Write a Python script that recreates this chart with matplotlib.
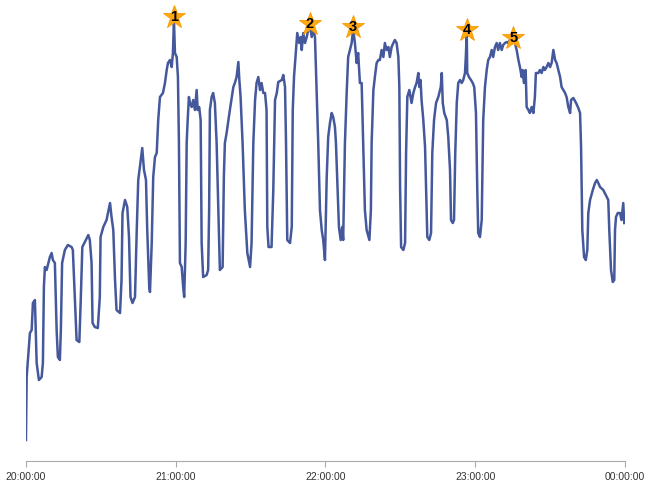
import matplotlib
matplotlib.use('Agg')
import matplotlib.pyplot as plt

# minutes after 20:00 and the measured value at that moment
minutes = [
    0, 0.3, 1.3, 1.6, 2.3, 2.8, 3.6, 4.3, 5.2, 6.3, 6.8, 7.2, 7.6, 8.3, 9.6, 10.3, 10.8, 11.6,
    12.3, 12.8, 13.6, 14.0, 14.5, 15.6, 16.8, 18.3, 18.8, 19.6, 20.3, 21.4, 22.0, 22.6, 23.6,
    25.0, 25.6, 26.3, 26.7, 27.6, 28.8, 29.6, 29.9, 31.0, 32.3, 33.7, 34.3, 35.0, 35.7, 36.3,
    37.7, 38.3, 38.7, 39.7, 40.6, 41.3, 41.9, 42.7, 43.7, 44.4, 45.0, 46.0, 46.6, 47.3, 48.1,
    48.6, 49.4, 49.7, 50.4, 51.0, 51.7, 52.4, 53.0, 53.7, 54.9, 55.7, 56.4, 56.9, 57.7, 58.4,
    58.9, 59.3, 59.7, 60.4, 60.9, 61.3, 61.7, 62.4, 63.0, 63.4, 64.0, 64.4, 64.8, 65.3, 65.7,
    66.4, 67.0, 67.7, 68.4, 68.8, 69.4, 70.0, 70.4, 71.0, 72.4, 73.0, 73.4, 73.7, 74.4, 75.0,
    75.7, 76.4, 77.1, 77.7, 78.8, 79.3, 79.7, 80.4, 81.7, 83.1, 83.7, 84.4, 85.1, 85.5, 86.0,
    86.8, 87.7, 88.7, 89.8, 90.4, 91.1, 91.8, 92.4, 93.1, 93.8, 94.4, 95.1, 95.8, 96.4, 96.7,
    97.2, 98.4, 99.1, 99.8, 100.5, 101.1, 102.5, 103.1, 103.8, 104.2, 104.7, 105.8, 106.5,
    106.9, 107.4, 108.2, 108.7, 109.5, 110.1, 110.5, 111.1, 111.8, 112.5, 113.1, 113.8, 114.5,
    115.1, 115.8, 116.5, 117.1, 117.8, 118.5, 119.1, 119.8, 120.5, 121.1, 121.8, 122.5, 123.1,
    123.8, 124.2, 124.9, 125.4, 126.1, 126.7, 127.1, 127.8, 128.5, 129.1, 129.8, 130.5, 131.1,
    131.8, 132.5, 133.1, 133.8, 134.5, 135.1, 135.8, 136.5, 137.6, 138.2, 138.5, 139.2, 139.8,
    140.5, 141.2, 141.8, 142.5, 143.2, 143.8, 144.5, 145.2, 145.8, 146.5, 147.2, 147.8, 148.5,
    149.2, 149.6, 149.9, 150.3, 151.2, 151.9, 152.3, 152.8, 153.6, 154.5, 155.2, 155.9, 156.5,
    157.2, 157.6, 158.1, 158.5, 159.2, 159.9, 160.3, 160.8, 161.6, 162.3, 162.8, 163.5, 164.3,
    165.2, 166.2, 166.6, 167.0, 167.6, 168.6, 169.2, 169.9, 170.3, 171.0, 171.5, 172.0, 172.6,
    173.2, 173.9, 174.6, 175.2, 175.9, 176.3, 176.6, 176.8, 177.5, 178.3, 179.0, 179.6, 180.3,
    180.8, 181.2, 181.9, 182.6, 183.2, 183.9, 184.6, 185.2, 185.9, 186.6, 187.2, 187.9, 188.6,
    189.2, 189.9, 190.6, 191.2, 191.9, 192.6, 193.2, 193.9, 194.6, 195.3, 195.9, 196.6, 197.3,
    197.9, 198.6, 199.0, 199.5, 200.2, 200.6, 201.3, 201.9, 202.6, 203.3, 203.9, 204.3, 205.3,
    205.9, 206.6, 207.3, 207.9, 208.6, 209.3, 210.0, 210.6, 211.3, 212.0, 212.6, 213.3, 214.0,
    214.6, 215.3, 216.0, 216.6, 217.3, 218.0, 218.4, 219.3, 220.4, 221.3, 222.0, 222.4, 222.9,
    223.6, 224.3, 224.9, 225.3, 226.0, 227.1, 228.0, 228.7, 229.3, 230.0, 231.3, 232.7, 233.3,
    233.7, 234.4, 235.1, 235.7, 236.0, 236.4, 237.1, 238.0, 238.6, 239.3, 239.7,
]
values = [
    20, 83, 117, 127, 130, 157, 160, 97, 80, 83, 97, 173, 193, 190, 203, 207, 200, 197,
    130, 103, 100, 130, 197, 210, 215, 213, 210, 163, 120, 118, 163, 213, 218,
    225, 220, 197, 137, 133, 132, 163, 223, 233, 240, 257, 243, 230, 180, 150,
    147, 180, 247, 260, 253, 223, 163, 157, 163, 230, 280, 300, 312, 290, 280,
    230, 173, 168, 217, 283, 303, 307, 340, 363, 367, 377, 390, 397, 400, 393,
    407, 441, 407, 403, 383, 317, 197, 193, 173, 163, 217, 317, 340, 363, 357,
    353, 360, 350, 370, 350, 353, 340, 217, 183, 185, 190, 250, 350, 363, 367,
    357, 317, 250, 190, 193, 283, 317, 327, 350, 373, 377, 383, 398, 380, 363,
    317, 250, 207, 193, 217, 317, 360, 377, 383, 370, 377, 367, 367, 350, 233,
    213, 213, 270, 360, 367, 378, 380, 385, 373, 317, 220, 217, 233,
    350, 383, 410, 427, 417, 423, 410, 427, 417, 423, 430, 434, 423,
    430, 423, 367, 317, 250, 230, 220, 200, 283, 323, 337, 347, 343,
    333, 317, 267, 233, 220, 233, 220, 317, 367, 403, 410, 417, 431,
    417, 397, 407, 377, 377, 317, 250, 230, 220, 250, 317, 370, 383,
    397, 400, 400, 410, 403, 417, 410, 413, 403, 413, 417, 420, 417,
    403, 373, 273, 213, 210, 217, 307, 363, 370, 357, 367, 373, 377,
    387, 373, 380, 360, 340, 313, 273, 223, 220, 227, 307, 340, 357,
    363, 373, 387, 357, 347, 340, 323, 290, 240, 237, 240, 307, 357,
    377, 380, 377, 380, 387, 407, 428, 387, 383, 380, 377, 373, 347,
    273, 227, 223, 240, 340, 373, 390, 400, 403, 410, 403, 413, 417,
    410, 417, 410, 415, 417, 418, 417, 420, 422, 420, 417, 410, 400,
    393, 383, 390, 377, 390, 353, 350, 347, 353, 347, 363, 387, 387,
    390, 387, 393, 390, 393, 397, 393, 397, 410, 400, 397, 390, 383,
    373, 370, 367, 363, 353, 347, 360, 362, 357, 352, 347, 313, 230,
    203, 200, 210, 247, 260, 270, 277, 280, 277, 273, 270, 263, 260,
    230, 190, 178, 180, 230, 243, 247, 247, 240, 257, 237,
]

# the five highest peaks, numbered on the chart
peak_minutes = [59.3, 113.8, 131.1, 176.6, 195.3]
peak_labels = ['1', '2', '3', '4', '5']

tick_minutes = [0, 60, 120, 180, 240]
tick_labels = ['20:00:00', '21:00:00', '22:00:00', '23:00:00', '00:00:00']

line_color = '#44589b'
star_color = '#ffa812'
axis_color = '#aaaaaa'

fig = plt.figure(figsize=(6.48, 4.86), dpi=100)
ax = fig.add_axes([0.040, 0.0514, 0.9245, 0.9486])

ax.plot(minutes, values, color=line_color, linewidth=1.8, solid_joinstyle='round')

# stars with rank numbers on the peaks
for m, lab in zip(peak_minutes, peak_labels):
    v = values[minutes.index(m)] + 2
    ax.plot(m, v, marker='*', markersize=17, color=star_color,
            markeredgecolor='#f59a00', markeredgewidth=0.6, zorder=3)
    ax.text(m, v, lab, ha='center', va='center', fontsize=10.5, fontweight='bold',
            color='black', family='Liberation Sans', zorder=4)

ax.set_xlim(0, 240)
ax.set_ylim(-1, 460)

ax.set_xticks(tick_minutes)
ax.set_xticklabels(tick_labels, family='Liberation Sans', fontsize=7.5, color='#333333')
ax.tick_params(axis='x', direction='out', length=4, width=0.8, color=axis_color, pad=4)
ax.set_yticks([])

for side in ['top', 'left', 'right']:
    ax.spines[side].set_visible(False)
ax.spines['bottom'].set_color(axis_color)
ax.spines['bottom'].set_linewidth(0.8)

fig.savefig('out.png', dpi=100)
